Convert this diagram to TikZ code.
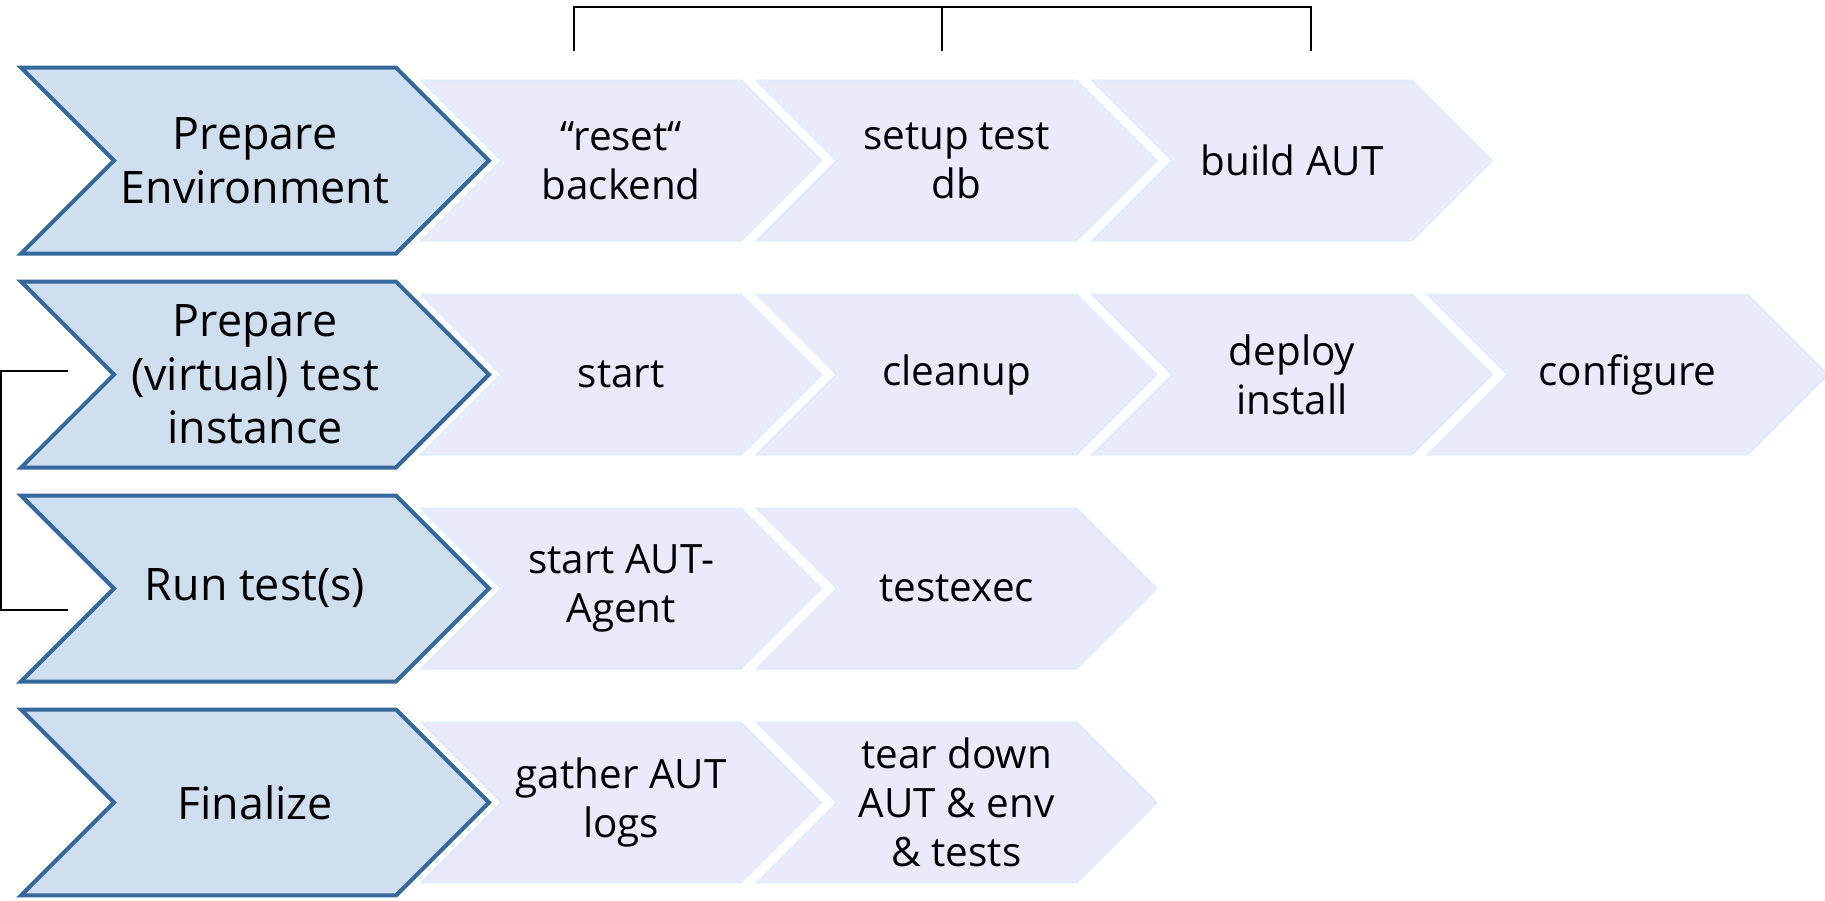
\documentclass[tikz,border=0pt]{standalone}
\usepackage{fontspec}
\setmainfont{Open Sans}
\usetikzlibrary{shapes,arrows}
\usetikzlibrary{shapes.symbols}

\definecolor{phasefill}{HTML}{D0DFF0}
\definecolor{phaseedge}{HTML}{35689C}
\definecolor{stepfill}{HTML}{E9EBFB}
\definecolor{stepedge}{HTML}{DCEDFB}
\newcommand{\phasefont}{\fontsize{25.5pt}{30.4pt}\selectfont}
\newcommand{\stepfont}{\fontsize{23pt}{27.8pt}\selectfont}

\begin{document}
\begin{tikzpicture}[x=0.02cm, y=-0.02cm, node distance = 6.71cm, auto]
    \tikzstyle{phase} = [signal, signal from=west, signal to=east, signal pointer angle=90, draw=phaseedge, line width=0.08cm, fill=phasefill, minimum width=9.36cm, minimum height=3.72cm, inner sep=0pt, align=center, font=\phasefont]
    \tikzstyle{stepbox} = [signal, signal from=west, signal to=east, signal pointer angle=90, draw=stepedge, line width=0.03cm, fill=stepfill, minimum width=8.01cm, minimum height=3.21cm, inner sep=0pt, align=center, font=\stepfont]
    \tikzstyle{bracket} = [draw=black, line width=0.035cm]

    \useasboundingbox (0,0) rectangle (1825,900);

    % phases
    \node [phase] (env) at (255,160.6) {Prepare\\Environment};
    \node [phase, below of=env, node distance=4.28cm] (inst) {Prepare\\(virtual) test\\instance};
    \node [phase, below of=inst, node distance=4.28cm] (run) {Run test(s)};
    \node [phase, below of=run, node distance=4.28cm] (fin) {Finalize};

    % steps of each phase
    \node [stepbox, right of=env, node distance=7.325cm] (reset) {“reset“\\backend};
    \node [stepbox, right of=reset] (setupdb) {setup test\\db};
    \node [stepbox, right of=setupdb] (build) {build AUT};

    \node [stepbox, right of=inst, node distance=7.325cm] (start) {start};
    \node [stepbox, right of=start] (cleanup) {cleanup};
    \node [stepbox, right of=cleanup] (deploy) {deploy\\install};
    \node [stepbox, right of=deploy] (config) {configure};

    \node [stepbox, right of=run, node distance=7.325cm] (agent) {start AUT-\\Agent};
    \node [stepbox, right of=agent] (exec) {testexec};

    \node [stepbox, right of=fin, node distance=7.325cm] (logs) {gather AUT\\logs};
    \node [stepbox, right of=logs] (teardown) {tear down\\AUT \& env\\\& tests};

    % brackets
    \coordinate (brA) at (574,51);
    \coordinate (brB) at (942,51);
    \coordinate (brC) at (1311,51);
    \coordinate (brAtop) at (574,7);
    \coordinate (brBtop) at (942,7);
    \coordinate (brCtop) at (1311,7);
    \draw [bracket] (brA) -- (brAtop) -- (brCtop) -- (brC);
    \draw [bracket] (brBtop) -- (brB);

    \coordinate (loopA) at (68,371);
    \coordinate (loopB) at (68,610);
    \coordinate (loopX) at (1,490);
    \draw [bracket] (loopA) -| (loopX) |- (loopB);
\end{tikzpicture}
\end{document}
